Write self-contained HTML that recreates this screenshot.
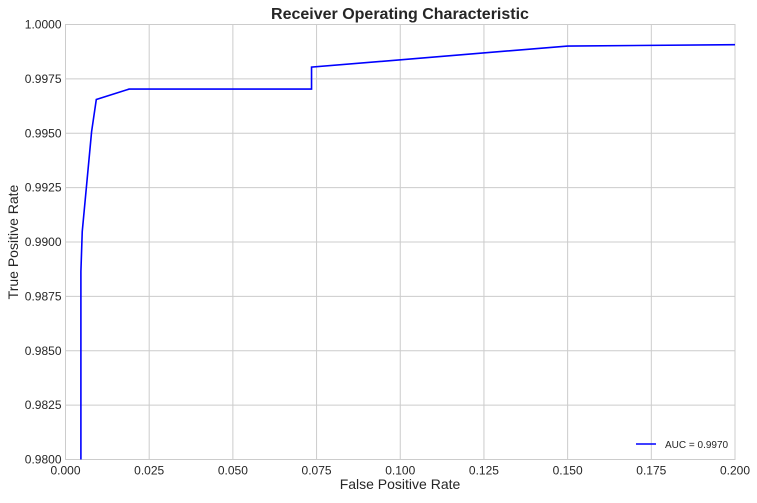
<!DOCTYPE html>
<html><head><meta charset="utf-8"><style>
body{margin:0;background:#fff;}
svg text{font-family:"Liberation Sans",Arial,sans-serif;fill:#262626;}
</style></head><body>
<svg id="chart" width="757" height="498" xmlns="http://www.w3.org/2000/svg">
<rect width="757" height="498" fill="#fff"/>
<g id="grid"></g><g id="ticks"></g>
<rect x="65.5" y="24.5" width="669.5" height="435" fill="none" stroke="#cccccc" stroke-width="1"/>
<path id="curve" fill="none" stroke="#0000ff" stroke-width="1.6"/>
<text x="400" y="19" text-anchor="middle" font-size="16" font-weight="bold">Receiver Operating Characteristic</text>
<text x="400" y="489" text-anchor="middle" font-size="14">False Positive Rate</text>
<text transform="translate(18,242) rotate(-90)" text-anchor="middle" font-size="14">True Positive Rate</text>
<g>
<line x1="636" y1="444" x2="656" y2="444" stroke="#0000ff" stroke-width="1.6"/>
<text x="665" y="448" font-size="10">AUC = 0.9970</text>
</g>
</svg>
<script>
const fpr = [0.0046, 0.0046, 0.005, 0.0078, 0.0092, 0.019, 0.0735, 0.0735, 0.150, 0.2];
const tpr = [0.98, 0.98864, 0.99048, 0.99508, 0.99655, 0.99703, 0.99703, 0.99804, 0.99901, 0.99907];
const xTicks = [0, 0.025, 0.05, 0.075, 0.1, 0.125, 0.15, 0.175, 0.2];
const xTickLabels = ["0.000","0.025","0.050","0.075","0.100","0.125","0.150","0.175","0.200"];
const yTicks = [0.98, 0.9825, 0.985, 0.9875, 0.99, 0.9925, 0.995, 0.9975, 1.0];
const yTickLabels = ["0.9800","0.9825","0.9850","0.9875","0.9900","0.9925","0.9950","0.9975","1.0000"];
const X0=65.5, X1=735, Y0=459.5, Y1=24.5;
function sx(v){return X0+(v-0)/(0.2-0)*(X1-X0);}
function sy(v){return Y0-(v-0.98)/(1.0-0.98)*(Y0-Y1);}
const NS="http://www.w3.org/2000/svg";
const grid=document.getElementById('grid'), ticks=document.getElementById('ticks');
xTicks.forEach((t,i)=>{
  const l=document.createElementNS(NS,'line');
  l.setAttribute('x1',sx(t));l.setAttribute('x2',sx(t));l.setAttribute('y1',Y1);l.setAttribute('y2',Y0);
  l.setAttribute('stroke','#cccccc');
  
  
  grid.appendChild(l);
  const tx=document.createElementNS(NS,'text');
  tx.setAttribute('x',sx(t));tx.setAttribute('y',Y0+15);tx.setAttribute('text-anchor','middle');tx.setAttribute('font-size','12');
  tx.textContent=xTickLabels[i];
  
  
  ticks.appendChild(tx);
});
yTicks.forEach((t,i)=>{
  const l=document.createElementNS(NS,'line');
  l.setAttribute('x1',X0);l.setAttribute('x2',X1);l.setAttribute('y1',sy(t));l.setAttribute('y2',sy(t));
  l.setAttribute('stroke','#cccccc');
  
  
  grid.appendChild(l);
  const tx=document.createElementNS(NS,'text');
  tx.setAttribute('x',X0-4);tx.setAttribute('y',sy(t)+4);tx.setAttribute('text-anchor','end');tx.setAttribute('font-size','12');
  tx.textContent=yTickLabels[i];
  
  
  ticks.appendChild(tx);
});
document.getElementById('curve').setAttribute('d',fpr.map((f,i)=>(i?'L':'M')+sx(f).toFixed(2)+','+sy(tpr[i]).toFixed(2)).join(' '));
</script>
</body></html>
